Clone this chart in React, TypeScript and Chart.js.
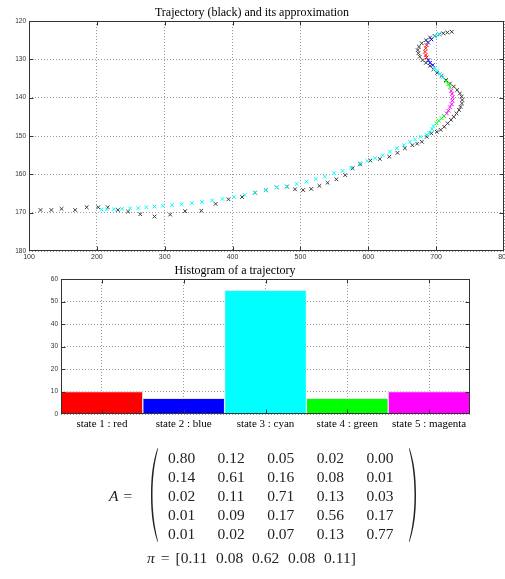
import React, { useEffect, useRef } from "react";
import { Chart, registerables } from "chart.js";
Chart.register(...registerables);

// ---------- data ----------
const trajX = [723, 716.5, 710.6, 704.7, 698, 691, 685, 678.7, 674.7, 672.8, 673.8, 676, 680, 685, 691, 696, 701.7, 708, 714.5, 720.4, 726, 731, 735, 737.6, 738.5, 738, 736, 733.7, 730, 726, 722, 717, 712, 706.7, 701, 693, 686, 679, 672, 665, 654, 643, 631, 617, 603, 588, 577, 566, 553, 540, 528, 516, 504, 492, 480, 465, 449, 433, 414, 394, 375, 354, 330, 308, 285, 264, 246, 231, 216, 202, 185, 168, 148, 133, 117];
const trajY = [122.8, 123.0, 123.2, 123.5, 123.9, 124.3, 125.0, 125.8, 126.7, 127.6, 128.4, 129.3, 130.2, 130.9, 131.7, 132.6, 133.5, 134.3, 135.4, 136.3, 137.1, 138.0, 138.9, 139.7, 140.6, 141.5, 142.4, 143.2, 144.1, 145.0, 145.8, 146.7, 147.6, 148.4, 148.9, 149.3, 150.2, 151.5, 152.0, 152.4, 153.2, 154.4, 155.4, 156.0, 156.4, 157.4, 158.4, 160.2, 161.3, 162.2, 163.0, 163.8, 164.1, 163.9, 163.2, 163.4, 164.1, 164.8, 165.9, 166.5, 167.7, 169.5, 169.6, 170.5, 171.0, 170.4, 169.7, 169.3, 168.6, 168.6, 168.6, 169.3, 169.0, 169.3, 169.3];

const approxX = [704, 698, 693, 688, 686, 684.6, 683.6, 684.6, 686, 688.5, 691, 695, 698, 701.7, 705.7, 709.7, 714.5, 718, 720.4, 722, 723.4, 724.4, 723.9, 723, 720.4, 718, 715.6, 711.6, 708.2, 704, 700.8, 696, 694, 690, 686, 677, 669, 661.5, 652.6, 642, 632, 621, 610, 598.6, 588, 574.5, 562, 549.5, 536, 522.5, 509, 494.5, 480, 465, 449, 433, 418, 402, 385, 370, 355, 340, 325, 311, 297, 285, 273, 261, 249, 237, 225, 215, 207];
const approxY = [123.4, 124.0, 124.8, 125.6, 126.3, 127.1, 128.0, 128.9, 129.5, 130.2, 130.9, 131.5, 132.3, 133.0, 133.8, 134.7, 135.7, 136.5, 137.3, 138.2, 139.0, 139.9, 140.8, 141.7, 142.5, 143.4, 144.1, 144.8, 145.4, 146.0, 146.7, 147.4, 148.2, 149.2, 149.7, 150.2, 150.9, 151.5, 152.4, 153.2, 154.1, 155.0, 155.8, 156.5, 157.1, 158.3, 159.1, 159.7, 160.6, 161.2, 161.9, 162.5, 163.2, 163.4, 164.1, 164.8, 165.4, 165.9, 166.4, 166.8, 167.2, 167.5, 167.8, 168.0, 168.2, 168.4, 168.6, 168.8, 168.9, 169.0, 169.1, 169.1, 169.2];
const approxState = [3, 3, 2, 2, 1, 1, 1, 1, 1, 2, 2, 2, 3, 3, 3, 3, 4, 4, 4, 5, 5, 5, 5, 5, 5, 5, 5, 4, 4, 4, 4, 3, 3, 3, 3, 3, 3, 3, 3, 3, 3, 3, 3, 3, 3, 3, 3, 3, 3, 3, 3, 3, 3, 3, 3, 3, 3, 3, 3, 3, 3, 3, 3, 3, 3, 3, 3, 3, 3, 3, 3, 3, 3];

const stateColors = ["#ff0000", "#0000ff", "#00ffff", "#00ff00", "#ff00ff"];
const stateLabels = ["state 1 : red", "state 2 : blue", "state 3 : cyan", "state 4 : green", "state 5 : magenta"];
const stateCounts = [10, 7, 55, 7, 10];

const trajXRange = [100, 800];
const trajYRange = [120, 180];
const histYRange = [0, 60];

const matrixA = [
  ["0.80", "0.12", "0.05", "0.02", "0.00"],
  ["0.14", "0.61", "0.16", "0.08", "0.01"],
  ["0.02", "0.11", "0.71", "0.13", "0.03"],
  ["0.01", "0.09", "0.17", "0.56", "0.17"],
  ["0.01", "0.02", "0.07", "0.13", "0.77"],
];
const piValues = ["0.11", "0.08", "0.62", "0.08", "0.11"];

const trajTitle = "Trajectory (black) and its approximation";
const histTitle = "Histogram of a trajectory";

// ---------- styling helpers ----------
const SERIF = "'Liberation Serif', 'Times New Roman', serif";
const SANS = "'Liberation Sans', Arial, sans-serif";

const boxPlugin = {
  id: "matlabBox",
  afterDraw(chart: any) {
    const { ctx, chartArea: a, scales } = chart;
    ctx.save();
    ctx.strokeStyle = "#333";
    ctx.lineWidth = 1;
    ctx.setLineDash([]);
    const L = Math.round(a.left) + 0.5;
    const R = Math.round(a.right) - 0.5;
    const T = Math.round(a.top) + 0.5;
    const B = Math.round(a.bottom) - 0.5;
    ctx.strokeRect(L, T, R - L, B - T);
    const tl = 4;
    ctx.beginPath();
    const xs = scales.x;
    xs.ticks.forEach((_t: any, i: number) => {
      const p = Math.round(xs.getPixelForTick(i)) + 0.5;
      if (p <= L + 1 || p >= R - 1) return;
      ctx.moveTo(p, B);
      ctx.lineTo(p, B - tl);
      ctx.moveTo(p, T);
      ctx.lineTo(p, T + tl);
    });
    const ys = scales.y;
    ys.ticks.forEach((_t: any, i: number) => {
      const p = Math.round(ys.getPixelForTick(i)) + 0.5;
      if (p <= T + 1 || p >= B - 1) return;
      ctx.moveTo(L, p);
      ctx.lineTo(L + tl, p);
      ctx.moveTo(R, p);
      ctx.lineTo(R - tl, p);
    });
    ctx.stroke();
    ctx.restore();
  },
};

const gridOpts = { color: "#9a9a9a", lineWidth: 1, drawTicks: false };
const borderOpts = { display: false, dash: [1, 2] };

function TrajectoryChart() {
  const ref = useRef<HTMLCanvasElement>(null);
  useEffect(() => {
    const chart = new Chart(ref.current as HTMLCanvasElement, {
      type: "scatter",
      data: {
        datasets: [
          {
            label: "approximation",
            data: approxX.map((x, i) => ({ x, y: approxY[i] })),
            pointStyle: "crossRot",
            pointRadius: 2.6,
            pointBorderWidth: 1,
            pointBorderColor: approxState.map((s) => stateColors[s - 1]),
            pointBackgroundColor: approxState.map((s) => stateColors[s - 1]),
            showLine: false,
          },
          {
            label: "trajectory",
            data: trajX.map((x, i) => ({ x, y: trajY[i] })),
            pointStyle: "crossRot",
            pointRadius: 2.6,
            pointBorderWidth: 1,
            pointBorderColor: "#3a3a3a",
            pointBackgroundColor: "#3a3a3a",
            showLine: false,
          },
        ],
      },
      options: {
        animation: false,
        responsive: false,
        events: [],
        layout: { autoPadding: false, padding: { left: 0, right: 1, top: 0, bottom: 0 } },
        plugins: {
          legend: { display: false },
          tooltip: { enabled: false },
          title: {
            display: true,
            text: trajTitle,
            color: "#000",
            font: { family: SERIF, size: 12, weight: "normal" },
            padding: { top: 5.5, bottom: 1.1 },
          },
        },
        scales: {
          x: {
            type: "linear",
            min: trajXRange[0],
            max: trajXRange[1],
            ticks: { stepSize: 100, color: "#333", font: { family: SANS, size: 7 }, padding: 2, maxRotation: 0 },
            grid: gridOpts,
            border: borderOpts,
            afterFit: (s: any) => { s.height = 11; s.paddingLeft = 0; s.paddingRight = 0; },
          },
          y: {
            type: "linear",
            reverse: true,
            min: trajYRange[0],
            max: trajYRange[1],
            ticks: { stepSize: 10, color: "#333", font: { family: SANS, size: 6.5 }, padding: 3 },
            grid: gridOpts,
            border: borderOpts,
            afterFit: (s: any) => { s.width = 29; s.paddingTop = 0; s.paddingBottom = 0; },
          },
        },
      },
      plugins: [boxPlugin],
    } as any);
    return () => chart.destroy();
  }, []);
  return <canvas ref={ref} width={505} height={262} style={{ position: "absolute", left: 0, top: 0, width: 505, height: 262 }} />;
}

function HistogramChart() {
  const ref = useRef<HTMLCanvasElement>(null);
  useEffect(() => {
    const chart = new Chart(ref.current as HTMLCanvasElement, {
      type: "bar",
      data: {
        labels: stateLabels,
        datasets: [
          {
            data: stateCounts,
            backgroundColor: stateColors,
            borderColor: "#e6e6e6",
            borderWidth: 1,
            barPercentage: 1,
            categoryPercentage: 1,
          },
        ],
      },
      options: {
        animation: false,
        responsive: false,
        events: [],
        layout: { autoPadding: false, padding: { left: 0, right: 35, top: 0, bottom: 0 } },
        plugins: {
          legend: { display: false },
          tooltip: { enabled: false },
          title: {
            display: true,
            text: histTitle,
            color: "#000",
            font: { family: SERIF, size: 12, weight: "normal" },
            padding: { top: 1.5, bottom: 1.1 },
          },
        },
        scales: {
          x: {
            ticks: { color: "#000", font: { family: SERIF, size: 11 }, padding: 4, maxRotation: 0, autoSkip: false },
            grid: { ...gridOpts, offset: false },
            border: borderOpts,
            afterFit: (s: any) => { s.height = 16; s.paddingLeft = 0; s.paddingRight = 0; },
          },
          y: {
            min: histYRange[0],
            max: histYRange[1],
            ticks: { stepSize: 10, color: "#333", font: { family: SANS, size: 6.5 }, padding: 3 },
            grid: gridOpts,
            border: borderOpts,
            afterFit: (s: any) => { s.width = 61; s.paddingTop = 0; s.paddingBottom = 0; },
          },
        },
      },
      plugins: [boxPlugin],
    } as any);
    return () => chart.destroy();
  }, []);
  return <canvas ref={ref} width={505} height={168} style={{ position: "absolute", left: 0, top: 262, width: 505, height: 168 }} />;
}

function Paren({ left, top, height, flip }: { left: number; top: number; height: number; flip?: boolean }) {
  const w = 8;
  const h = height;
  const d = `M7.5,0 C2.8,${h * 0.15} 1,${h * 0.3} 1,${h / 2} C1,${h * 0.7} 2.8,${h * 0.85} 7.5,${h} L8,${h - 0.8} C4.2,${h * 0.83} 2.5,${h * 0.68} 2.5,${h / 2} C2.5,${h * 0.32} 4.2,${h * 0.17} 8,0.8 Z`;
  return (
    <svg width={w} height={h} style={{ position: "absolute", left, top, transform: flip ? "scaleX(-1)" : undefined }}>
      <path d={d} fill="#222" />
    </svg>
  );
}

function Formulas() {
  const rowTop = 457.7;
  const rowGap = 19;
  const colLeft = 168;
  const colGap = 49.6;
  const fs = 15.5;
  return (
    <div style={{ position: "absolute", left: 0, top: 0, width: 505, height: 579, fontFamily: SERIF, fontSize: fs, color: "#222" }}>
      <div style={{ position: "absolute", left: 109, top: 495.7 - 10, lineHeight: "20px", whiteSpace: "nowrap" }}>
        <i>A</i>
        <span style={{ marginLeft: 5 }}>=</span>
      </div>
      <Paren left={150} top={448} height={94} />
      <Paren left={409} top={448} height={94} flip />
      {matrixA.map((row, r) =>
        row.map((v, c) => (
          <div key={`${r}-${c}`} style={{ position: "absolute", left: colLeft + c * colGap, top: rowTop + r * rowGap - 10, lineHeight: "20px" }}>
            {v}
          </div>
        ))
      )}
      <div style={{ position: "absolute", left: 147, top: 558 - 10, lineHeight: "20px", whiteSpace: "nowrap", wordSpacing: 5 }}>
        <i>π</i>
        <span style={{ margin: "0 6px" }}>=</span>[{piValues.join(" ")}]
      </div>
    </div>
  );
}

export default function App() {
  return (
    <div style={{ position: "absolute", left: 0, top: 0, width: 505, height: 579, background: "#fff", overflow: "hidden" }}>
      <TrajectoryChart />
      <HistogramChart />
      <Formulas />
    </div>
  );
}
